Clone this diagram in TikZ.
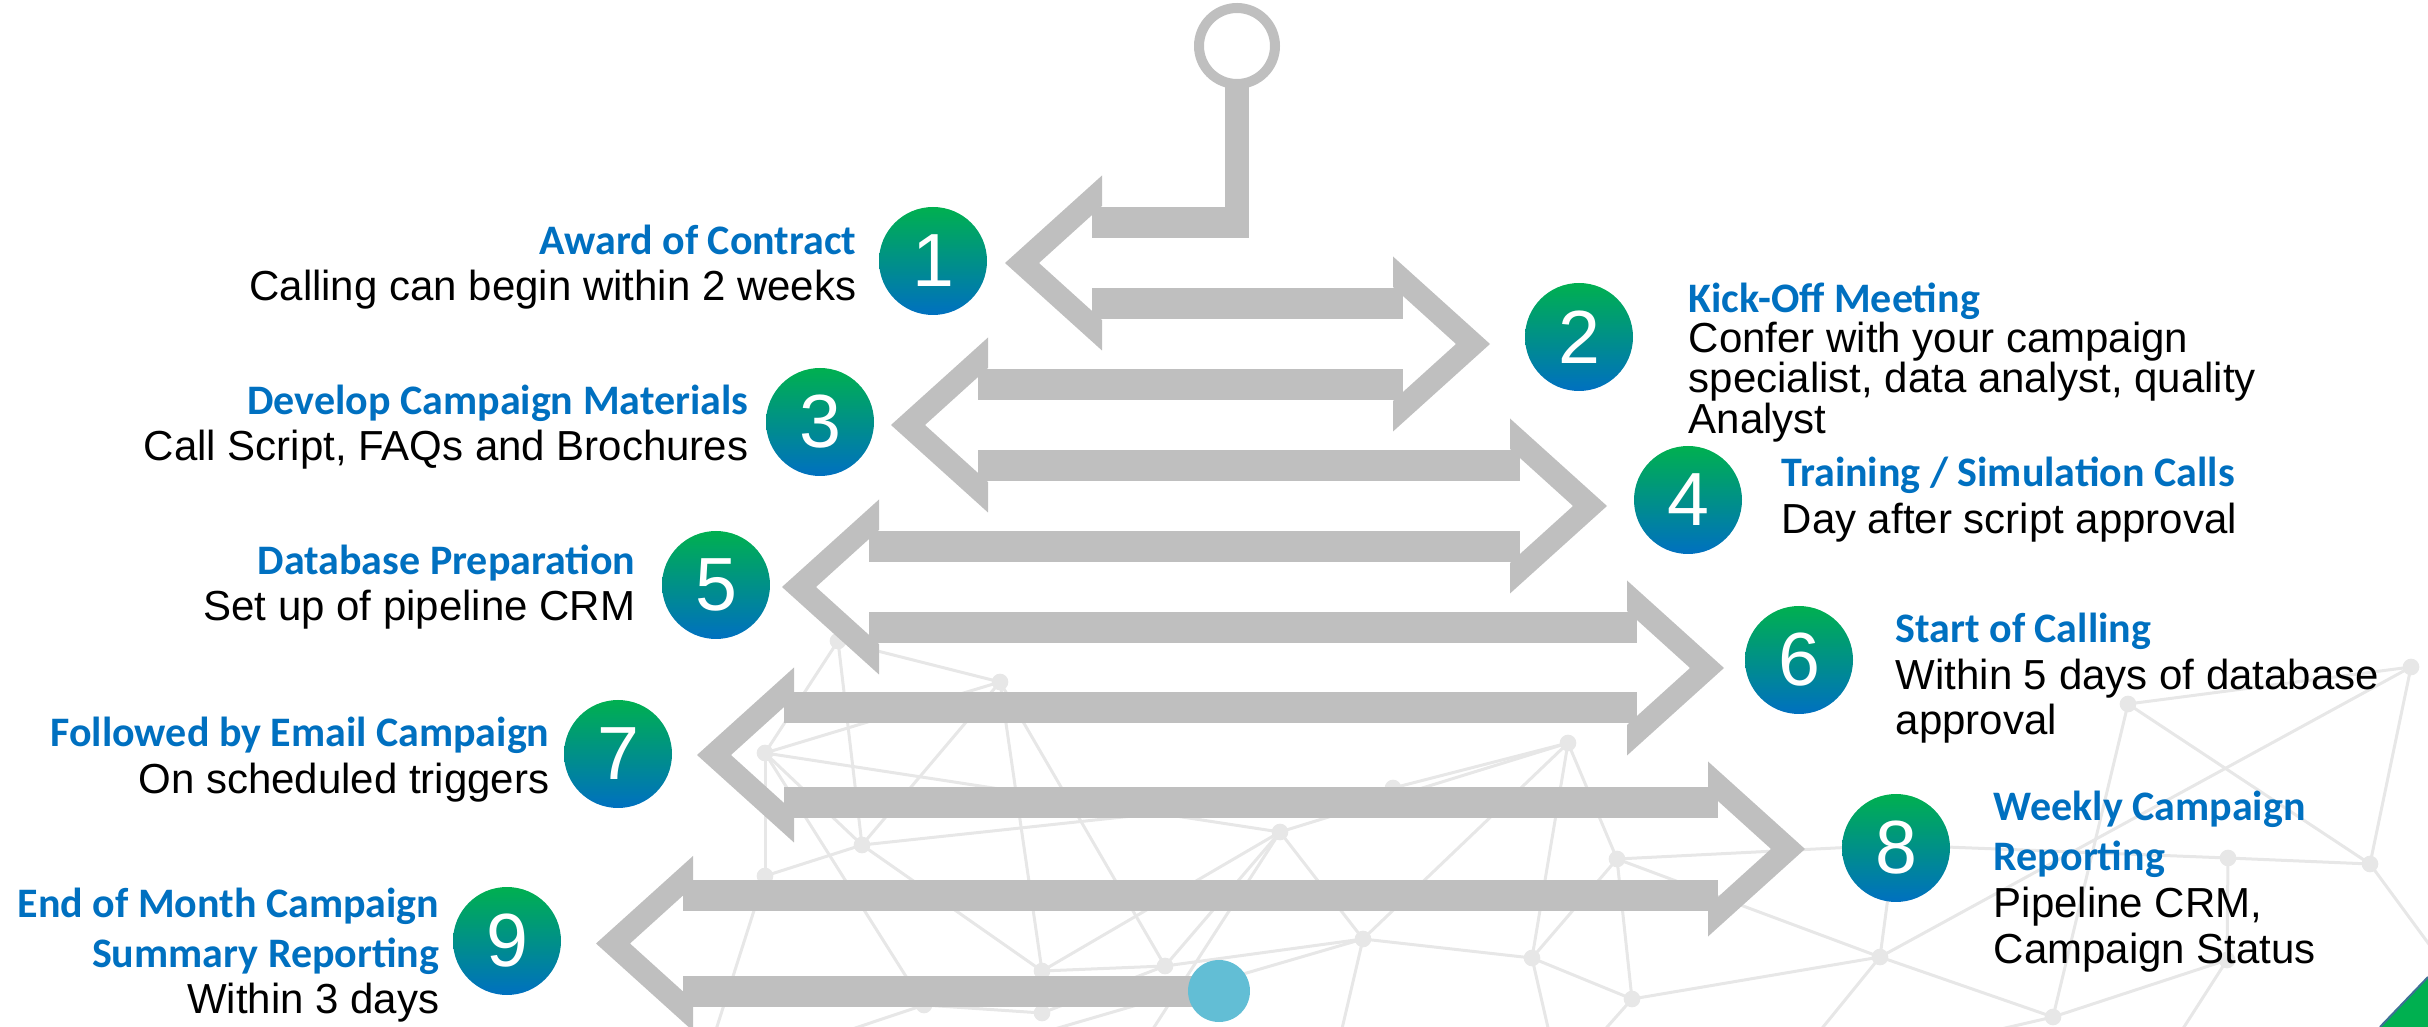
\documentclass[tikz,border=0pt]{standalone}
\usepackage{fontspec}
\setmainfont{Liberation Sans}
\newfontfamily\headfont{Carlito}

\definecolor{bargray}{RGB}{191,191,191}
\definecolor{headblue}{RGB}{0,112,192}
\definecolor{stepgreen}{RGB}{0,176,80}
\definecolor{endteal}{RGB}{98,190,213}
\definecolor{netgray}{RGB}{231,231,231}
\definecolor{edgeblue}{RGB}{62,112,150}

\begin{document}
\begin{tikzpicture}[x=0.3pt,y=-0.3pt,
  bar/.style={fill=bargray},
  netline/.style={draw=netgray,line width=0.9pt},
  netdot/.style={fill=netgray},
  ring/.style={circle,draw=bargray,line width=3pt,minimum size=22.8pt,inner sep=0pt},
  enddot/.style={circle,fill=endteal,minimum size=18.6pt,inner sep=0pt},
  numdot/.style={circle,minimum size=32.4pt,inner sep=0pt,top color=stepgreen,
    bottom color=headblue,text=white,font=\fontsize{22.6}{22.6}\selectfont},
  head/.style={inner sep=0pt,text=headblue,font=\headfont\bfseries\fontsize{12.6}{12.6}\selectfont},
  body/.style={inner sep=0pt,font=\fontsize{12.6}{12.6}\selectfont}]
  \useasboundingbox (0,0) rectangle (2428,1027);
  \clip (0,0) rectangle (2428,1027);

  % network in the background
  \foreach \n/\x/\y in {n1/838/641, n2/1000/682, n3/765/753, n4/862/845,
      n5/765/876, n6/1280/832, n7/1393/788, n8/1568/743, n9/1617/859,
      n10/1363/939, n11/1532/958, n12/1632/999, n13/1165/966, n14/1042/971,
      n15/1042/1013, n16/924/1005, n17/2128/704, n18/2411/667, n19/2228/858,
      n20/2370/864, n21/1880/957, n22/2053/1017, n23/2227/960, n24/1895/845,
      e1/700/1080, e2/880/1080, e3/1120/1080, e4/1330/1080, e5/1560/1080,
      e6/1780/1080, e7/2150/1080, e8/2470/1000}
    \coordinate (\n) at (\x,\y);
  \foreach \a/\b in {n1/n2, n1/n3, n1/n4, n2/n3, n2/n4, n2/n14, n2/n13,
      n3/n5, n3/n4, n3/n6, n3/n16, n4/n5, n4/n7, n4/n14, n6/n8, n6/n10,
      n6/n13, n6/n14, n6/e3, n7/n8, n8/n9, n8/n11, n8/n10, n9/n12, n9/n11,
      n9/n21, n10/n11, n10/n13, n10/e2, n10/e4, n11/n12, n11/e5, n13/n14,
      n13/n15, n14/n15, n15/n16, n16/e1, n5/e1, n12/n21, n12/e5,
      n17/n18, n17/n20, n18/n20, n18/n21, n19/n20, n17/n22, n19/n23,
      n24/n19, n24/n21, n24/n9, n21/n22, n21/e6, n23/n22, n23/e7, n20/e8,
      n22/e6}
    \draw[netline] (\a) -- (\b);
  \foreach \n in {n1,n2,n3,n4,n5,n6,n7,n8,n9,n10,n11,n12,n13,n14,n15,n16,
      n17,n18,n19,n20,n21,n22,n23}
    \fill[netdot] (\n) circle[radius=2.5pt];

  % the winding path
  \node[ring] (pin) at (1237,46) {};
  \fill[bar] (1225,80) rectangle (1249,238);
  \foreach \xa/\xb/\yc in {1092/1249/222.5, 1092/1403/303.5, 978/1403/384.5,
      978/1520/465.5, 869/1520/546.5, 869/1637/627.5, 784/1637/708,
      784/1718/802.5, 683/1718/895.5, 683/1219/991.5}
    \fill[bar] (\xa,{\yc-15.5}) rectangle (\xb,{\yc+15.5});
  \foreach \a/\m/\s in {1005/263/1, 1490/344/-1, 891/425/1, 1607/506/-1,
      782/587/1, 1724/668/-1, 697/755/1, 1805/849/-1, 596/943.5/1}
    \fill[bar] (\a,\m) -- ({\a+97*\s},{\m-87.5}) -- ({\a+97*\s},{\m-57})
      -- ({\a+34*\s},\m) -- ({\a+97*\s},{\m+57}) -- ({\a+97*\s},{\m+87.5}) -- cycle;
  \node[enddot] (stop) at (1219,991) {};

  % numbered steps
  \node[numdot] (s1) at (933,261) {1};
  \node[numdot] (s2) at (1579,337) {2};
  \node[numdot] (s3) at (820,422) {3};
  \node[numdot] (s4) at (1688,500) {4};
  \node[numdot] (s5) at (716,585) {5};
  \node[numdot] (s6) at (1799,660) {6};
  \node[numdot] (s7) at (618,754) {7};
  \node[numdot] (s8) at (1896,848) {8};
  \node[numdot] (s9) at (507,941) {9};

  % left column
  \node[head,anchor=base east] (t1) at (857,255) {Award of Contract};
  \node[body,anchor=base east] (d1) at (857,301) {Calling can begin within 2 weeks};
  \node[head,anchor=base east] (t3) at (749,415) {Develop Campaign Materials};
  \node[body,anchor=base east] (d3) at (749,461) {Call Script, FAQs and Brochures};
  \node[head,anchor=base east] (t5) at (636,575) {Database Preparation};
  \node[body,anchor=base east] (d5) at (636,621) {Set up of pipeline CRM};
  \node[head,anchor=base east] (t7) at (550,747) {Followed by Email Campaign};
  \node[body,anchor=base east] (d7) at (550,793) {On scheduled triggers};
  \node[head,anchor=base east] (t9a) at (440,917) {End of Month Campaign};
  \node[head,anchor=base east] (t9b) at (440,967) {Summary Reporting};
  \node[body,anchor=base east] (d9) at (440,1014) {Within 3 days};

  % right column
  \node[head,anchor=base west] (t2) at (1688,313) {Kick-Off Meeting};
  \node[body,anchor=base west] (d2a) at (1688,353) {Confer with your campaign};
  \node[body,anchor=base west] (d2b) at (1688,393) {specialist, data analyst, quality};
  \node[body,anchor=base west] (d2c) at (1688,434) {Analyst};
  \node[head,anchor=base west] (t4) at (1781,487) {Training / Simulation Calls};
  \node[body,anchor=base west] (d4) at (1781,534) {Day after script approval};
  \node[head,anchor=base west] (t6) at (1895,643) {Start of Calling};
  \node[body,anchor=base west] (d6a) at (1895,690) {Within 5 days of database};
  \node[body,anchor=base west] (d6b) at (1895,735) {approval};
  \node[head,anchor=base west] (t8a) at (1993,820) {Weekly Campaign};
  \node[head,anchor=base west] (t8b) at (1993,870) {Reporting};
  \node[body,anchor=base west] (d8a) at (1993,918) {Pipeline CRM,};
  \node[body,anchor=base west] (d8b) at (1993,964) {Campaign Status};

  % corner mark
  \fill[stepgreen] (2380,1027) -- (2428,977) -- (2428,1027) -- cycle;
  \draw[edgeblue,line width=0.6pt] (2380,1027) -- (2428,977);
\end{tikzpicture}
\end{document}
